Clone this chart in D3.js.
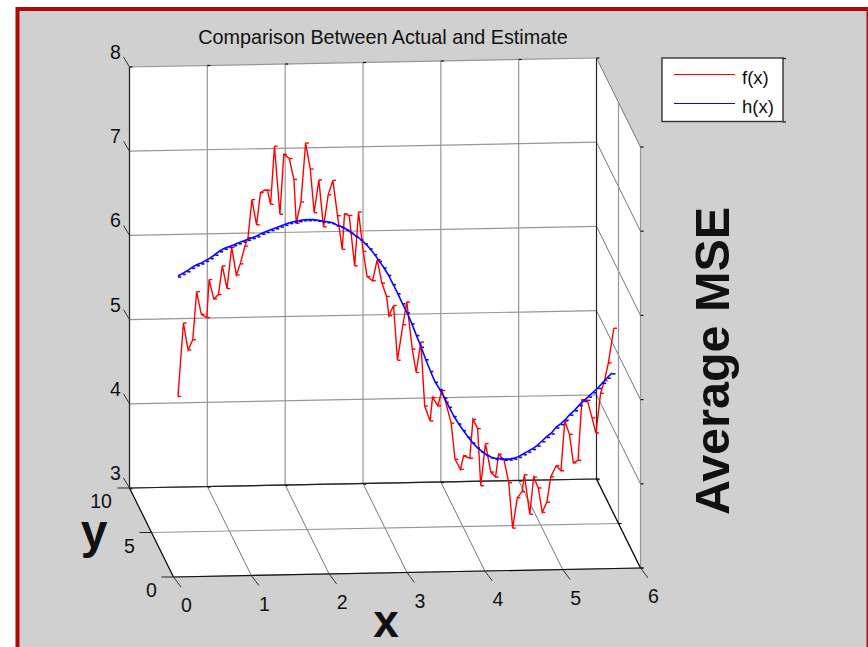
<!DOCTYPE html>
<html>
<head>
<meta charset="utf-8">
<script src="https://cdn.jsdelivr.net/npm/d3@7"></script>
<style>
    html, body { margin: 0; padding: 0; background: #fff; overflow: hidden; }
    text { font-family: "Liberation Sans", Arial, sans-serif; fill: #111; }
</style>
</head>
<body>
<svg id="chart" width="868" height="647"></svg>
<script>
const titleText = 'Comparison Between Actual and Estimate'
const xTicks = [0, 1, 2, 3, 4, 5, 6]
const yTicks = [0, 5, 10]
const zTicks = [3, 4, 5, 6, 7, 8]
const legendNames = ['f(x)', 'h(x)']

// f(x). The curve sits on the y = 5 plane
const curveY = 5
const fx = [0.34, 0.41, 0.47, 0.53, 0.58, 0.64, 0.71, 0.74, 0.80, 0.86, 0.91, 0.97, 1.03, 1.09, 1.14, 1.20, 1.24, 1.29, 1.35, 1.40,
    1.45, 1.49, 1.53, 1.58, 1.65, 1.70, 1.77, 1.83, 1.86, 1.92, 1.98, 2.04, 2.09, 2.15, 2.21, 2.27, 2.33, 2.39, 2.45, 2.48,
    2.54, 2.61, 2.66, 2.72, 2.77, 2.84, 2.90, 2.96, 3.02, 3.05, 3.11, 3.16, 3.23, 3.28, 3.35, 3.40, 3.46, 3.51, 3.58, 3.61,
    3.68, 3.73, 3.78, 3.85, 3.90, 3.97, 4.01, 4.09, 4.13, 4.19, 4.23, 4.29, 4.36, 4.42, 4.46, 4.53, 4.59, 4.64, 4.70, 4.76,
    4.79, 4.86, 4.91, 4.97, 5.02, 5.08, 5.13, 5.20, 5.26, 5.31, 5.37, 5.42, 5.48, 5.53, 5.60, 5.66, 5.71, 5.77, 5.82, 5.87, 5.94]
const fz = [4.61, 5.48, 5.16, 5.28, 5.85, 5.58, 5.54, 5.99, 5.76, 5.81, 6.15, 5.88, 6.37, 6.04, 6.17, 6.38, 6.48, 6.93, 6.63, 7.01,
    7.04, 7.04, 6.87, 7.56, 6.75, 7.46, 7.41, 7.16, 6.64, 6.89, 7.59, 7.28, 6.76, 7.15, 6.59, 6.97, 7.14, 6.72, 6.32, 6.74,
    6.72, 6.12, 6.76, 6.29, 5.99, 5.94, 6.19, 5.91, 5.75, 5.52, 5.64, 4.99, 5.41, 5.68, 5.12, 4.84, 5.20, 4.44, 4.26, 4.54,
    4.44, 4.62, 4.48, 4.23, 3.80, 3.68, 3.84, 3.81, 4.27, 4.16, 3.48, 3.98, 3.64, 3.58, 3.85, 3.78, 3.51, 2.97, 3.33, 3.40,
    3.60, 3.13, 3.57, 3.44, 3.15, 3.27, 3.57, 3.70, 3.64, 4.23, 4.07, 3.73, 3.76, 4.48, 4.47, 4.26, 4.08, 4.55, 4.70, 4.91, 5.32]

// h(x), the smooth estimate
const hx = [0.34, 0.40, 0.46, 0.52, 0.58, 0.64, 0.70, 0.76, 0.82, 0.88, 0.94, 1.00, 1.06, 1.12, 1.18, 1.24, 1.30, 1.36, 1.42, 1.48,
    1.54, 1.60, 1.66, 1.72, 1.78, 1.84, 1.90, 1.96, 2.02, 2.08, 2.14, 2.20, 2.26, 2.32, 2.38, 2.44, 2.50, 2.56, 2.62, 2.68,
    2.74, 2.80, 2.86, 2.92, 2.98, 3.04, 3.10, 3.16, 3.22, 3.28, 3.34, 3.40, 3.46, 3.52, 3.58, 3.64, 3.70, 3.76, 3.82, 3.88,
    3.94, 4.00, 4.06, 4.12, 4.18, 4.24, 4.30, 4.36, 4.42, 4.48, 4.54, 4.60, 4.66, 4.72, 4.78, 4.84, 4.90, 4.96, 5.02, 5.08,
    5.14, 5.20, 5.26, 5.32, 5.38, 5.44, 5.50, 5.56, 5.62, 5.68, 5.74, 5.80, 5.86, 5.92]
const hz = [6.04, 6.07, 6.10, 6.14, 6.17, 6.19, 6.22, 6.25, 6.29, 6.33, 6.36, 6.38, 6.40, 6.42, 6.44, 6.46, 6.48, 6.50, 6.53, 6.55,
    6.57, 6.59, 6.61, 6.63, 6.65, 6.66, 6.67, 6.68, 6.68, 6.68, 6.67, 6.66, 6.65, 6.64, 6.61, 6.59, 6.56, 6.52, 6.48, 6.44,
    6.39, 6.33, 6.26, 6.18, 6.10, 6.01, 5.90, 5.79, 5.67, 5.56, 5.43, 5.29, 5.15, 5.00, 4.86, 4.73, 4.64, 4.54, 4.43, 4.32,
    4.23, 4.15, 4.07, 4.00, 3.94, 3.89, 3.85, 3.82, 3.80, 3.80, 3.79, 3.79, 3.80, 3.82, 3.85, 3.88, 3.91, 3.95, 4.00, 4.05,
    4.09, 4.16, 4.20, 4.25, 4.31, 4.36, 4.42, 4.47, 4.52, 4.57, 4.62, 4.68, 4.74, 4.79]

const svg = d3.select('#chart')

// Each axis is a scale onto a screen offset [dx, dy], the three added up give the 3D view
const xVec = d3.scaleLinear().domain([0, 6]).range([[0, 0], [467, -9]])
const yVec = d3.scaleLinear().domain([0, 10]).range([[0, 0], [-44, -89]])
const zVec = d3.scaleLinear().domain([3, 8]).range([[0, 0], [0, -421]])
const origin = [173.5, 577]

function project(x, y, z){
    let a = xVec(x), b = yVec(y), c = zVec(z)
    return [origin[0] + a[0] + b[0] + c[0], origin[1] + a[1] + b[1] + c[1]]
}

function segment(g, p, q, color, width){
    g.append('line')
    .attr('x1', p[0]).attr('y1', p[1])
    .attr('x2', q[0]).attr('y2', q[1])
    .attr('stroke', color)
    .attr('stroke-width', width)
}

function label(g, x, y, str, size, weight){
    return g.append('text')
    .attr('x', x).attr('y', y)
    .attr('text-anchor', 'middle')
    .attr('font-size', size)
    .attr('font-weight', weight || 'normal')
    .text(str)
}

// Figure background with the red frame
svg.append('rect')
.attr('x', 17.5).attr('y', 9)
.attr('width', 851).attr('height', 700)
.attr('fill', '#d0d0d0')
.attr('stroke', '#b10808')
.attr('stroke-width', 4)

label(svg, 383, 44, titleText, 19.8)

// Three walls of the box
const walls = [
    [project(0, 10, 3), project(6, 10, 3), project(6, 10, 8), project(0, 10, 8)],
    [project(0, 0, 3), project(6, 0, 3), project(6, 10, 3), project(0, 10, 3)],
    [project(6, 0, 3), project(6, 0, 8), project(6, 10, 8), project(6, 10, 3)]
]
svg.selectAll('.wall')
.data(walls)
.enter()
.append('polygon')
.attr('class', 'wall')
.attr('points', d => d.join(' '))
.attr('fill', 'white')

// Grid lines
const grid = svg.append('g')
const gridColor = '#969696'
xTicks.forEach(x => {
    segment(grid, project(x, 10, 3), project(x, 10, 8), gridColor, 1.2)
    segment(grid, project(x, 0, 3), project(x, 10, 3), '#777', 1)
})
zTicks.forEach(z => {
    segment(grid, project(0, 10, z), project(6, 10, z), gridColor, 1.2)
    segment(grid, project(6, 10, z), project(6, 0, z), '#777', 1)
})
yTicks.forEach(y => {
    segment(grid, project(0, y, 3), project(6, y, 3), gridColor, 1.2)
    segment(grid, project(6, y, 3), project(6, y, 8), gridColor, 1.2)
})

// Dark box edges
const edge = svg.append('g')
segment(edge, project(0, 10, 3), project(0, 10, 8), '#222', 1.2)
segment(edge, project(6, 10, 3), project(6, 10, 8), '#222', 1)
segment(edge, project(0, 10, 3), project(6, 10, 3), '#222', 1.2)
segment(edge, project(0, 0, 3), project(6, 0, 3), '#111', 1.2)
segment(edge, project(0, 0, 3), project(0, 10, 3), '#111', 1.2)
segment(edge, project(6, 0, 3), project(6, 10, 3), '#111', 1.2)

// Tick marks and tick labels
const ticks = svg.append('g')
xTicks.forEach(x => {
    let p = project(x, 0, 3)
    segment(ticks, p, [p[0] + 7.5, p[1] + 10], '#333', 1)
    let top = project(x, 10, 8), low = project(x, 10, 3)
    segment(ticks, [top[0], top[1]], [top[0] + 3, top[1]], '#111', 1.2)
    segment(ticks, [low[0], low[1]], [low[0] + 3, low[1] + 1], '#111', 1.2)
    label(ticks, p[0] + 13, p[1] + 35, x, 19.5)
})
yTicks.forEach(y => {
    let p = project(0, y, 3)
    segment(ticks, p, [p[0] - 12, p[1]], '#222', 1)
    let q = project(6, y, 3)
    segment(ticks, q, [q[0] + 3, q[1]], '#111', 1.2)
    label(ticks, p[0] - (y == 10 ? 28.5 : 22), p[1] + 20, y, 19.5)
})
zTicks.forEach(z => {
    let p = project(0, 10, z)
    segment(ticks, p, [p[0] - 6, p[1] - 10], '#333', 1)
    let q = project(6, 0, z)
    segment(ticks, q, [q[0] + 3, q[1]], '#111', 1.2)
    label(ticks, p[0] - 14, p[1] - 8, z, 19.5)
})

// Curves
const curve = d3.line()
.x(d => project(d[0], curveY, d[1])[0])
.y(d => project(d[0], curveY, d[1])[1])

const fData = fx.map((x, i) => [x, fz[i]])
const hData = hx.map((x, i) => [x, hz[i]])

function drawSeries(data, color, width, dy){
    svg.append('path')
    .datum(data)
    .attr('d', curve)
    .attr('fill', 'none')
    .attr('stroke', color)
    .attr('stroke-width', width)

    svg.append('g')
    .selectAll('line')
    .data(data)
    .enter()
    .append('line')
    .attr('x1', d => project(d[0], curveY, d[1])[0])
    .attr('y1', d => project(d[0], curveY, d[1])[1] + dy)
    .attr('x2', d => project(d[0], curveY, d[1])[0] + 3.2)
    .attr('y2', d => project(d[0], curveY, d[1])[1] + dy)
    .attr('stroke', color)
    .attr('stroke-width', width)
}
drawSeries(fData, '#ff0000', 1.4, 0)
drawSeries(hData, '#0808ff', 1.6, 1)

// Legend
const legend = svg.append('g')
legend.append('rect')
.attr('x', 662).attr('y', 58)
.attr('width', 121).attr('height', 63.5)
.attr('fill', 'white')
.attr('stroke', '#333')
.attr('stroke-width', 1.4)

segment(legend, [783, 58.5], [786, 58.5], '#111', 1.2)
segment(legend, [783, 122], [786, 122], '#111', 1.2)

legendNames.forEach((name, i) => {
    let ly = 74.5 + i * 29
    segment(legend, [674, ly], [735, ly], i == 0 ? '#ff0000' : '#0808ff', 1)
    legend.append('text')
    .attr('x', 742)
    .attr('y', ly + 9.5 - i * 0.5)
    .attr('font-size', 18.5)
    .text(name)
})

// Big axis names
label(svg, 386, 637.2, 'x', 46, 'bold')
label(svg, 94, 548, 'y', 48, 'bold')
svg.append('text')
.attr('transform', 'translate(729,361) rotate(-90)')
.attr('text-anchor', 'middle')
.attr('font-size', 48.5)
.attr('font-weight', 'bold')
.text('Average MSE')
</script>
</body>
</html>
